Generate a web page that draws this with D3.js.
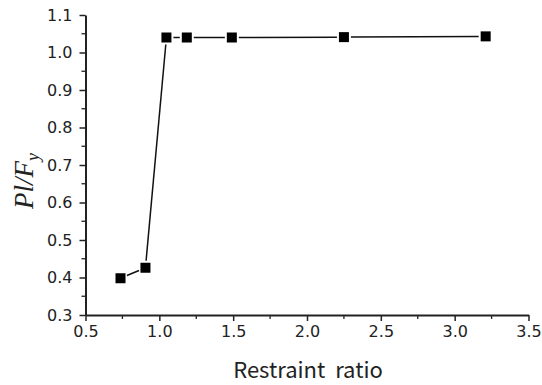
<!DOCTYPE html>
<html><head><meta charset="utf-8">
<script src="https://cdn.jsdelivr.net/npm/d3@7"></script>
<style>body{margin:0;background:#fff}</style>
</head><body>
<svg id="c" width="542" height="385"></svg>
<script>
const ratio = [0.737, 0.906, 1.048, 1.186, 1.491, 2.25, 3.21];
const plFy = [0.398, 0.426, 1.040, 1.040, 1.040, 1.041, 1.043];
const xTicks = [0.5, 1.0, 1.5, 2.0, 2.5, 3.0, 3.5];
const yTicks = [0.3, 0.4, 0.5, 0.6, 0.7, 0.8, 0.9, 1.0, 1.1];

const svg = d3.select("#c");
const x = d3.scaleLinear().domain([0.5, 3.5]).range([85.5, 528.5]);
const y = d3.scaleLinear().domain([0.3, 1.1]).range([315, 15]);
const tickFont = "'DejaVu Sans', sans-serif";

// minor ticks
const xMinor = d3.range(0.75, 3.5, 0.5);
const yMinor = d3.range(0.35, 1.1, 0.1);
svg.append("g").selectAll("line").data(xMinor).join("line")
  .attr("x1", d => x(d)).attr("x2", d => x(d)).attr("y1", 315).attr("y2", 319)
  .attr("stroke", "#222").attr("stroke-width", 1.3);
svg.append("g").selectAll("line").data(yMinor).join("line")
  .attr("y1", d => y(d)).attr("y2", d => y(d)).attr("x1", 85.5).attr("x2", 81.5)
  .attr("stroke", "#222").attr("stroke-width", 1.3);

const gx = svg.append("g").attr("transform", "translate(0,315)")
  .call(d3.axisBottom(x).tickValues(xTicks).tickFormat(d3.format(".1f")).tickSizeInner(6).tickSizeOuter(0).tickPadding(5));
const gy = svg.append("g").attr("transform", "translate(85.5,0)")
  .call(d3.axisLeft(y).tickValues(yTicks).tickFormat(d3.format(".1f")).tickSizeInner(6).tickSizeOuter(0).tickPadding(7));
[gx, gy].forEach(g => {
  g.attr("font-family", null).attr("font-size", null);
  g.select(".domain").attr("stroke", "#222").attr("stroke-width", 2);
  g.selectAll(".tick line").attr("stroke", "#222").attr("stroke-width", 1.5);
  g.selectAll(".tick text").style("font-family", tickFont).style("font-size", "16px").attr("fill", "#222");
});

// line segments with gaps at markers
const pts = ratio.map((r, i) => [x(r), y(plFy[i])]);
const gap = 7;
const segs = [];
for (let i = 0; i < pts.length - 1; i++) {
  const [x1, y1] = pts[i], [x2, y2] = pts[i + 1];
  const L = Math.hypot(x2 - x1, y2 - y1);
  if (L > 2 * gap) {
    const ux = (x2 - x1) / L, uy = (y2 - y1) / L;
    segs.push([x1 + ux * gap, y1 + uy * gap, x2 - ux * gap, y2 - uy * gap]);
  }
}
svg.append("g").selectAll("line").data(segs).join("line")
  .attr("x1", d => d[0]).attr("y1", d => d[1]).attr("x2", d => d[2]).attr("y2", d => d[3])
  .attr("stroke", "#111").attr("stroke-width", 1.5);

svg.append("g").selectAll("rect").data(pts).join("rect")
  .attr("x", d => d[0] - 5).attr("y", d => d[1] - 5).attr("width", 10).attr("height", 10)
  .attr("fill", "#000");

// axis titles
svg.append("text").attr("x", 308).attr("y", 378).attr("text-anchor", "middle")
  .style("font-family", "'Noto Sans CJK SC', 'Noto Sans', sans-serif").style("font-size", "22px")
  .attr("fill", "#222")
  .text("Restraint\u00a0\u00a0ratio");

const yt = svg.append("text").attr("transform", "translate(33,181) rotate(-90)").attr("text-anchor", "middle")
  .style("font-family", "'Liberation Serif', 'Times New Roman', serif").style("font-style", "italic")
  .style("font-size", "27px").attr("fill", "#222");
yt.append("tspan").text("Pl/F");
yt.append("tspan").attr("dy", 6).style("font-size", "18px").text("y");
</script>
</body></html>
